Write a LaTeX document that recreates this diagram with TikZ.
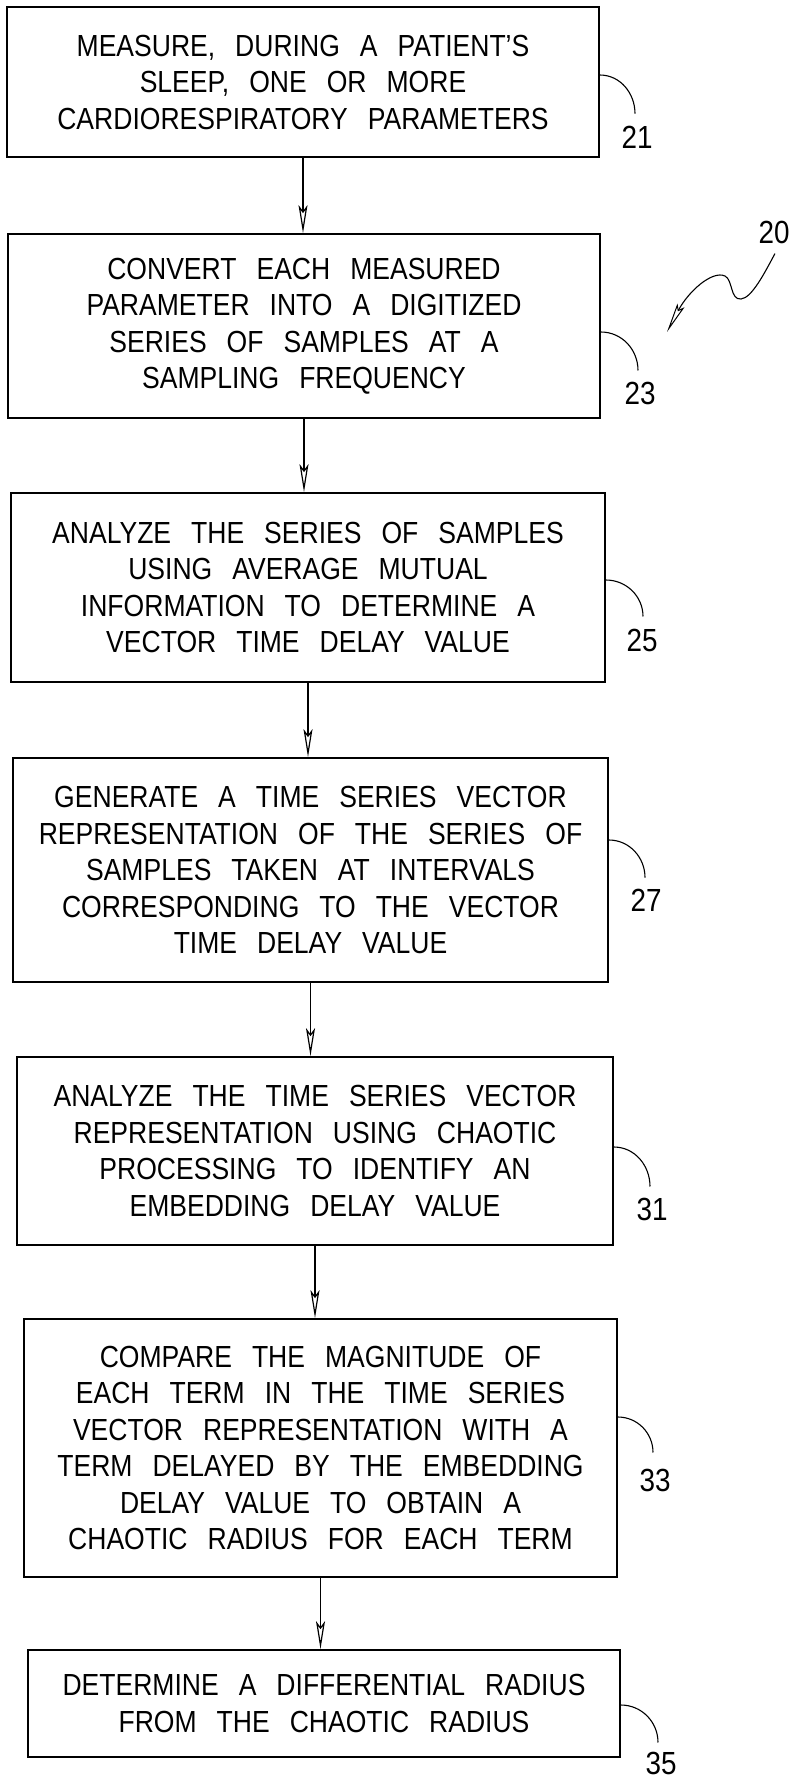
\documentclass[tikz,border=0pt]{standalone}
\usepackage{fontspec}
\setmainfont{Liberation Sans}[FakeStretch=0.87]
\usetikzlibrary{arrows.meta,calc}
\newcommand\flowtextfont{\fontsize{30.5pt}{36.5pt}\selectfont\spaceskip=20pt plus 2pt minus 2pt\relax}
\newcommand\reflabelfont{\fontsize{32pt}{36pt}\selectfont}
\begin{document}
\begin{tikzpicture}[x=1pt,y=-1pt,
  stepbox/.style={draw, line width=1.8pt, inner sep=0pt, align=center, font=\flowtextfont, minimum width=592pt},
  flow/.style={line width=1.4pt, -{Stealth[open, length=28pt, width=9pt, inset=6pt, line width=1.2pt]}},
  reflabel/.style={inner sep=0pt, font=\reflabelfont},
  leader/.style={line width=1.1pt}]
\useasboundingbox (0,0) rectangle (793,1781);

\node[stepbox, minimum height=150pt] (n21) at (303,82)
  {MEASURE, DURING A PATIENT'S\\SLEEP, ONE OR MORE\\CARDIORESPIRATORY PARAMETERS};
\node[stepbox, minimum height=184pt] (n23) at (304,326)
  {CONVERT EACH MEASURED\\PARAMETER INTO A DIGITIZED\\SERIES OF SAMPLES AT A\\SAMPLING FREQUENCY};
\node[stepbox, minimum height=189pt, minimum width=594pt] (n25) at (308,587.5)
  {ANALYZE THE SERIES OF SAMPLES\\USING AVERAGE MUTUAL\\INFORMATION TO DETERMINE A\\VECTOR TIME DELAY VALUE};
\node[stepbox, minimum height=224pt, minimum width=595pt] (n27) at (310.5,870)
  {GENERATE A TIME SERIES VECTOR\\REPRESENTATION OF THE SERIES OF\\SAMPLES TAKEN AT INTERVALS\\CORRESPONDING TO THE VECTOR\\TIME DELAY VALUE};
\node[stepbox, minimum height=188pt, minimum width=596pt] (n31) at (315,1151)
  {ANALYZE THE TIME SERIES VECTOR\\REPRESENTATION USING CHAOTIC\\PROCESSING TO IDENTIFY AN\\EMBEDDING DELAY VALUE};
\node[stepbox, minimum height=258pt, minimum width=593pt] (n33) at (320.5,1448)
  {COMPARE THE MAGNITUDE OF\\EACH TERM IN THE TIME SERIES\\VECTOR REPRESENTATION WITH A\\TERM DELAYED BY THE EMBEDDING\\DELAY VALUE TO OBTAIN A\\CHAOTIC RADIUS FOR EACH TERM};
\node[stepbox, minimum height=107pt] (n35) at (324,1703.5)
  {DETERMINE A DIFFERENTIAL RADIUS\\FROM THE CHAOTIC RADIUS};

\draw[flow] (n21.south) -- (n21.south |- n23.north);
\draw[flow] (n23.south) -- (n23.south |- n25.north);
\draw[flow] (n25.south) -- (n25.south |- n27.north);
\draw[flow] (n27.south) -- (n27.south |- n31.north);
\draw[flow] (n31.south) -- (n31.south |- n33.north);
\draw[flow] (n33.south) -- (n33.south |- n35.north);

\node[reflabel] (l21) at (637,137) {21};
\node[reflabel] (l23) at (640,393) {23};
\node[reflabel] (l25) at (642,640) {25};
\node[reflabel] (l27) at (646,900) {27};
\node[reflabel] (l31) at (652,1209) {31};
\node[reflabel] (l33) at (655,1480) {33};
\node[reflabel] (l35) at (661,1763) {35};
\node[reflabel] (l20) at (774,232) {20};

\draw[leader] ($(n21.east)+(0,-7)$) to[out=0,in=90] ($(l21.north)+(-2,-12)$);
\draw[leader] ($(n23.east)+(0,6)$) to[out=0,in=90] ($(l23.north)+(-2,-11)$);
\draw[leader] ($(n25.east)+(0,-7.5)$) to[out=0,in=90] ($(l25.north)+(1,-12)$);
\draw[leader] ($(n27.east)+(0,-30)$) to[out=0,in=90] ($(l27.north)+(-1,-11)$);
\draw[leader] ($(n31.east)+(0,-4)$) to[out=0,in=90] ($(l31.north)+(-2,-11)$);
\draw[leader] ($(n33.east)+(0,-31)$) to[out=0,in=90] ($(l33.north)+(-2,-16)$);
\draw[leader] ($(n35.east)+(0,1.5)$) to[out=0,in=90] ($(l35.north)+(-3,-9)$);

\coordinate (t20) at (667,332);
\draw[line width=1.1pt, -{Stealth[open, length=30pt, width=8pt, inset=5pt, line width=1pt]}]
  ($(l20.south)+(1,10)$) .. controls (765,272) and (752,298) .. (741,299)
  .. controls (730,300) and (733,280) .. (725,276)
  .. controls (712,270) and (688,292) .. (t20);
\end{tikzpicture}
\end{document}
